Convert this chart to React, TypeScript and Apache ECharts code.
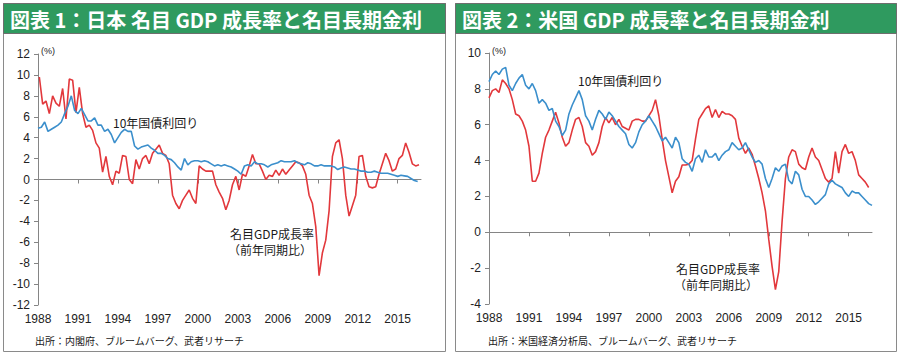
import React, { useEffect, useRef } from "react";
import * as echarts from "echarts";

// ---------- data ----------
const yearTicks = [1988, 1991, 1994, 1997, 2000, 2003, 2006, 2009, 2012, 2015];

const titleLeft = "図表 1：日本 名目 GDP 成長率と名目長期金利";
const titleRight = "図表 2：米国 GDP 成長率と名目長期金利";
const sourceLeft = "出所：内閣府、ブルームバーグ、武者リサーチ";
const sourceRight = "出所：米国経済分析局、ブルームバーグ、武者リサーチ";
const labelYield = "10年国債利回り";
const labelGdp1 = "名目GDP成長率";
const labelGdp2 = "（前年同期比）";
const unitLabel = "(%)";

// Japan nominal GDP growth (yoy, %), quarterly from 1988.1
const jpGdpStart = 1988.1;
const jpGdp = [
  9.8, 7.2, 7.5, 6.3,
  8.0, 7.3, 7.0, 8.7,
  5.8, 9.6, 9.5, 6.4,
  8.8, 6.3, 5.0, 5.2,
  4.7, 3.5, 3.0, 0.7,
  2.2, 0.3, -0.5, 0.8,
  0.6, 2.3, 2.2, 0.0,
  -0.4, 1.9, 1.0, 2.0,
  2.3, 1.5, 2.5, 2.9,
  3.3, 2.5, 2.3, 1.5,
  -1.5, -2.3, -2.8, -2.0,
  -1.5, -1.0, -1.8, -2.3,
  1.3, 1.0, 0.8, 0.8,
  0.8, -0.5, -1.2, -1.8,
  -2.9, -2.0, -0.5, 0.3,
  -1.0, 0.5, 0.3, 1.3,
  2.4, 1.5, 1.5, 0.8,
  0.0, 0.4, 0.3, 0.9,
  0.4, 1.0, 0.5, 0.9,
  1.3, 1.7, 1.6, 1.3,
  0.5, -1.5, -2.3, -4.5,
  -9.2, -7.0, -5.8, -3.0,
  2.2, 3.5, 3.8, 2.0,
  -1.5, -3.5, -2.5, -1.5,
  2.2, 2.3, 0.3, -0.7,
  -0.8, -0.7, 0.5, 1.5,
  2.5, 1.8, 0.8, 1.0,
  2.0, 2.3, 3.5, 2.6,
  1.5, 1.3, 1.4,
];

// Japan 10y government bond yield (%), quarterly from 1988.0
const jpYieldStart = 1988.0;
const jpYield = [
  4.9, 5.0, 5.5, 4.6,
  4.8, 5.0, 5.2, 5.5,
  6.3, 7.0, 8.0, 6.6,
  6.3, 6.8, 6.2, 5.6,
  5.6, 5.9, 5.2, 5.2,
  4.6, 4.8, 4.3, 3.5,
  4.0, 4.5, 4.8, 4.6,
  4.6, 3.2, 2.9, 3.1,
  3.2, 3.3, 3.0, 2.8,
  2.5, 2.5, 2.3, 2.0,
  1.9, 1.6, 1.2, 0.9,
  2.0, 1.4, 1.7, 1.8,
  1.8, 1.7, 1.8, 1.7,
  1.5, 1.3, 1.4, 1.3,
  1.4, 1.3, 1.2, 1.0,
  0.8, 0.5, 1.3, 1.4,
  1.3, 1.7, 1.5, 1.5,
  1.4, 1.2, 1.4, 1.5,
  1.6, 1.8, 1.7, 1.7,
  1.7, 1.8, 1.6, 1.5,
  1.4, 1.6, 1.5, 1.3,
  1.3, 1.4, 1.3, 1.3,
  1.3, 1.2, 0.95, 1.1,
  1.2, 1.1, 1.0, 1.0,
  0.9, 0.8, 0.8, 0.7,
  0.7, 0.8, 0.7, 0.6,
  0.6, 0.6, 0.5, 0.4,
  0.3, 0.4, 0.35, 0.3,
  0.1, -0.1, -0.2,
];

// US nominal GDP growth (yoy, %), quarterly from 1988.0
const usGdpStart = 1988.0;
const usGdp = [
  7.5, 7.9, 8.0, 7.8,
  8.5, 8.3, 8.0, 7.4,
  6.6, 6.5, 6.2, 5.7,
  4.8, 2.85, 2.85, 3.3,
  4.4, 5.3, 5.7, 6.2,
  6.7, 6.1, 5.3, 4.8,
  5.0, 5.7, 6.3, 6.4,
  5.9, 5.0, 4.8, 4.3,
  4.5, 5.0, 5.9, 6.4,
  6.1, 6.4, 6.0, 6.3,
  5.9, 5.8, 5.7, 6.2,
  6.3, 6.3, 6.2, 6.2,
  6.5, 6.8, 7.4, 6.5,
  5.2, 4.0, 3.1, 2.2,
  2.85, 3.1, 3.75, 3.75,
  3.8, 4.0, 5.2, 6.3,
  6.6, 6.9, 7.05, 6.4,
  6.85, 6.4, 6.75, 6.6,
  6.6, 6.5, 6.3, 5.25,
  4.8, 4.4, 4.7, 4.35,
  3.7, 3.0, 2.2, 1.2,
  -0.4, -1.9, -3.2, -2.2,
  0.6, 3.0, 4.2, 4.6,
  4.5, 3.8, 3.6, 3.5,
  4.2, 4.7, 4.2, 4.0,
  3.5, 3.0, 2.8, 3.0,
  4.5, 3.3, 4.5, 4.9,
  4.4, 4.5, 4.0, 3.2,
  3.0, 2.8, 2.5,
];

// US 10y treasury yield (%), quarterly from 1988.0
const usYieldStart = 1988.0;
const usYield = [
  8.4, 8.8, 9.0, 8.8,
  9.1, 9.2, 8.2, 7.9,
  8.3, 8.6, 8.8, 8.2,
  8.0, 8.3, 7.9, 7.2,
  7.4, 7.2, 6.8, 6.9,
  6.2, 5.9, 5.4, 5.7,
  6.6, 7.1, 7.5, 7.9,
  7.4, 6.5, 6.2, 5.7,
  6.3, 6.8, 6.6, 6.3,
  6.7, 6.5, 6.2, 5.9,
  5.7, 5.5, 4.9, 4.7,
  5.0, 5.6, 6.0, 6.2,
  6.5, 6.2, 5.9, 5.5,
  5.1, 5.3, 5.0, 4.7,
  5.3, 5.0, 4.1, 3.9,
  3.8, 3.4, 4.1, 4.3,
  3.9, 4.6, 4.2, 4.2,
  4.4, 4.0, 4.3, 4.5,
  4.6, 5.0, 4.8, 4.6,
  4.7, 5.0, 4.6, 4.2,
  3.9, 4.0, 3.8, 3.0,
  2.5, 3.0, 3.6, 3.4,
  3.7, 3.8, 2.9, 2.7,
  3.4, 3.2, 2.4, 2.0,
  2.0, 1.8, 1.55, 1.7,
  1.9, 2.1, 2.7, 2.9,
  2.7, 2.6, 2.5, 2.2,
  2.0, 2.3, 2.2, 2.2,
  2.0, 1.8, 1.6, 1.5,
];

// ---------- styling ----------
const RED = "#e2383c";
const BLUE = "#3b8fcc";
const GREEN = "#2f9a5f";
const AXIS = "#858585";
const NUM_FONT = "'Liberation Sans', Arial, sans-serif";
const JP_FONT = "'Noto Sans CJK JP', 'Noto Sans', sans-serif";

function toPairs(start: number, vals: number[]) {
  return vals.map((v, i) => [Math.round((start + i * 0.25) * 1000) / 1000, v]);
}

function yearFormatter(v: number) {
  const r = Math.round(v);
  return Math.abs(v - r) < 1e-6 && yearTicks.indexOf(r) >= 0 ? String(r) : "";
}

function makeXAxes(gridIndex: number) {
  const base = {
    type: "value",
    gridIndex,
    min: 1988,
    max: 2016.75,
    interval: 3,
    splitLine: { show: false },
  };
  return [
    {
      ...base,
      position: "bottom",
      axisLine: { show: false, onZero: false },
      axisTick: { show: false },
      axisLabel: {
        show: true,
        fontFamily: NUM_FONT,
        fontSize: 12,
        color: "#222",
        margin: 8,
        customValues: yearTicks,
        formatter: yearFormatter,
      },
    },
    {
      ...base,
      position: "bottom",
      axisLine: { show: true, onZero: true, lineStyle: { color: AXIS, width: 1 } },
      axisTick: { show: true, length: 4, customValues: yearTicks, lineStyle: { color: AXIS } },
      axisLabel: { show: false },
    },
  ];
}

function makeYAxis(gridIndex: number, min: number, max: number) {
  return {
    type: "value",
    gridIndex,
    min,
    max,
    interval: 2,
    axisLine: { show: true, onZero: false, lineStyle: { color: AXIS, width: 1 } },
    axisTick: { show: true, length: 4, lineStyle: { color: AXIS } },
    axisLabel: { fontFamily: NUM_FONT, fontSize: 12, color: "#222", margin: 8 },
    splitLine: { show: false },
  };
}

function lineSeries(name: string, xAxisIndex: number, yAxisIndex: number, data: number[][], color: string) {
  return {
    name,
    type: "line",
    xAxisIndex,
    yAxisIndex,
    data,
    showSymbol: false,
    symbol: "none",
    smooth: false,
    color,
    lineStyle: { color, width: 1.6 },
    emphasis: { disabled: true },
  };
}

function text(x: number, y: number, t: string, opts: any = {}) {
  const align = opts.align || "left";
  return {
    type: "text",
    x,
    y,
    silent: true,
    z: 10,
    style: {
      text: t,
      fill: opts.fill || "#1a1a1a",
      fontSize: opts.fontSize || 12,
      fontFamily: opts.fontFamily || JP_FONT,
      fontWeight: opts.fontWeight || "normal",
      align,
      textAlign: align,
      verticalAlign: "middle",
      textVerticalAlign: "middle",
    },
  };
}

export default function App() {
  const ref = useRef<HTMLDivElement>(null);

  useEffect(() => {
    document.body.style.margin = "0";
    if (!ref.current) return;
    const chart = echarts.init(ref.current, null, { renderer: "svg" });

    const xLeft = makeXAxes(0);
    const xRight = makeXAxes(1);

    const option: any = {
      animation: false,
      backgroundColor: "#ffffff",
      grid: [
        { left: 38, top: 54, width: 383, height: 251, containLabel: false },
        { left: 489, top: 53, width: 383, height: 251, containLabel: false },
      ],
      xAxis: [...xLeft, ...xRight],
      yAxis: [makeYAxis(0, -12, 12), makeYAxis(1, -4, 10)],
      series: [
        lineSeries("日本 名目GDP成長率", 0, 0, toPairs(jpGdpStart, jpGdp), RED),
        lineSeries("日本 10年国債利回り", 0, 0, toPairs(jpYieldStart, jpYield), BLUE),
        lineSeries("米国 名目GDP成長率", 2, 1, toPairs(usGdpStart, usGdp), RED),
        lineSeries("米国 10年国債利回り", 2, 1, toPairs(usYieldStart, usYield), BLUE),
      ],
      graphic: [
        // panel frames
        { type: "rect", silent: true, z: -1, shape: { x: 3.5, y: 3.5, width: 442, height: 348 }, style: { fill: "none", stroke: "#8a8a8a", lineWidth: 1 } },
        { type: "rect", silent: true, z: -1, shape: { x: 455.5, y: 3.5, width: 441, height: 348 }, style: { fill: "none", stroke: "#8a8a8a", lineWidth: 1 } },
        // title bars
        { type: "rect", silent: true, z: 5, shape: { x: 3.5, y: 3.5, width: 442, height: 30 }, style: { fill: GREEN, stroke: "#6e6e6e", lineWidth: 1 } },
        { type: "rect", silent: true, z: 5, shape: { x: 455.5, y: 3.5, width: 441, height: 30 }, style: { fill: GREEN, stroke: "#6e6e6e", lineWidth: 1 } },
        text(10, 19, titleLeft, { fill: "#ffffff", fontSize: 20, fontWeight: "bold" }),
        text(462, 19, titleRight, { fill: "#ffffff", fontSize: 20, fontWeight: "bold" }),
        // units
        text(41, 51, unitLabel, { fontSize: 9, fontFamily: NUM_FONT }),
        text(492, 51, unitLabel, { fontSize: 9, fontFamily: NUM_FONT }),
        // annotations
        text(113, 122, labelYield, { fontSize: 12 }),
        text(578, 80, labelYield, { fontSize: 12 }),
        text(272, 233, labelGdp1, { fontSize: 12, align: "center" }),
        text(270, 249, labelGdp2, { fontSize: 12, align: "center" }),
        text(718, 268, labelGdp1, { fontSize: 12, align: "center" }),
        text(716, 284, labelGdp2, { fontSize: 12, align: "center" }),
        // sources
        text(35, 340, sourceLeft, { fontSize: 10 }),
        text(488, 340, sourceRight, { fontSize: 10 }),
      ],
    };

    chart.setOption(option);
    return () => chart.dispose();
  }, []);

  return (
    <div
      ref={ref}
      style={{ position: "absolute", left: 0, top: 0, width: 900, height: 357 }}
    />
  );
}
